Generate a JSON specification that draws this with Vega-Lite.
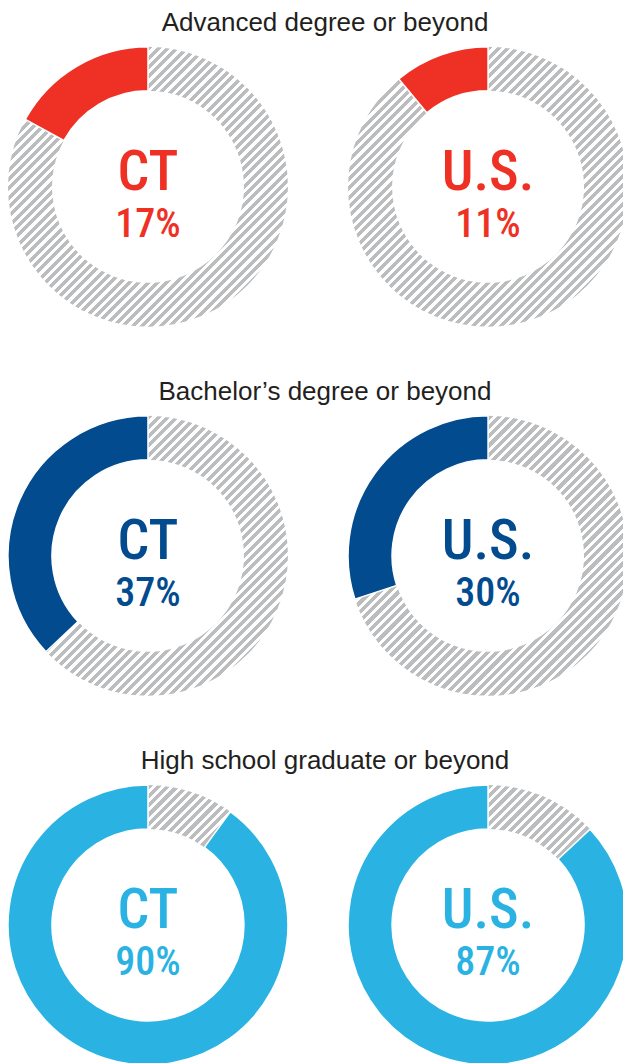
{
  "$schema": "https://vega.github.io/schema/vega-lite/v6.json",
  "width": 623,
  "height": 1063,
  "autosize": "none",
  "padding": 0,
  "background": "#ffffff",
  "config": {"view": {"stroke": null}},
  "data": {
    "values": [
      {"title": "Advanced degree or beyond", "region": "CT", "pct": 17, "label": "17%"},
      {"title": "Advanced degree or beyond", "region": "U.S.", "pct": 11, "label": "11%"},
      {"title": "Bachelor’s degree or beyond", "region": "CT", "pct": 37, "label": "37%"},
      {"title": "Bachelor’s degree or beyond", "region": "U.S.", "pct": 30, "label": "30%"},
      {"title": "High school graduate or beyond", "region": "CT", "pct": 90, "label": "90%"},
      {"title": "High school graduate or beyond", "region": "U.S.", "pct": 87, "label": "87%"}
    ]
  },
  "encoding": {
    "x": {"field": "region", "type": "nominal", "axis": null,
          "scale": {"type": "point", "domain": ["CT", "U.S."], "padding": 0.416, "align": 0.523}},
    "y": {"field": "title", "type": "nominal", "axis": null,
          "scale": {"type": "point", "domain": ["Advanced degree or beyond", "Bachelor’s degree or beyond", "High school graduate or beyond"], "padding": 0.44, "align": 0.575}}
  },
  "layer": [
    {
      "mark": {
        "type": "arc", "outerRadius": 140, "innerRadius": 96, "theta": 0, "theta2": 6.2832,
        "fill": {
          "gradient": "linear", "x1": 0, "y1": 0, "x2": 1, "y2": 1,
          "stops": [
            {"offset":0,"color":"#bcbdbf"},{"offset":0.00917,"color":"#bcbdbf"},{"offset":0.00917,"color":"#fff"},{"offset":0.01667,"color":"#fff"},
            {"offset":0.01667,"color":"#bcbdbf"},{"offset":0.02583,"color":"#bcbdbf"},{"offset":0.02583,"color":"#fff"},{"offset":0.03333,"color":"#fff"},
            {"offset":0.03333,"color":"#bcbdbf"},{"offset":0.0425,"color":"#bcbdbf"},{"offset":0.0425,"color":"#fff"},{"offset":0.05,"color":"#fff"},
            {"offset":0.05,"color":"#bcbdbf"},{"offset":0.05917,"color":"#bcbdbf"},{"offset":0.05917,"color":"#fff"},{"offset":0.06667,"color":"#fff"},
            {"offset":0.06667,"color":"#bcbdbf"},{"offset":0.07583,"color":"#bcbdbf"},{"offset":0.07583,"color":"#fff"},{"offset":0.08333,"color":"#fff"},
            {"offset":0.08333,"color":"#bcbdbf"},{"offset":0.0925,"color":"#bcbdbf"},{"offset":0.0925,"color":"#fff"},{"offset":0.1,"color":"#fff"},
            {"offset":0.1,"color":"#bcbdbf"},{"offset":0.10917,"color":"#bcbdbf"},{"offset":0.10917,"color":"#fff"},{"offset":0.11667,"color":"#fff"},
            {"offset":0.11667,"color":"#bcbdbf"},{"offset":0.12583,"color":"#bcbdbf"},{"offset":0.12583,"color":"#fff"},{"offset":0.13333,"color":"#fff"},
            {"offset":0.13333,"color":"#bcbdbf"},{"offset":0.1425,"color":"#bcbdbf"},{"offset":0.1425,"color":"#fff"},{"offset":0.15,"color":"#fff"},
            {"offset":0.15,"color":"#bcbdbf"},{"offset":0.15917,"color":"#bcbdbf"},{"offset":0.15917,"color":"#fff"},{"offset":0.16667,"color":"#fff"},
            {"offset":0.16667,"color":"#bcbdbf"},{"offset":0.17583,"color":"#bcbdbf"},{"offset":0.17583,"color":"#fff"},{"offset":0.18333,"color":"#fff"},
            {"offset":0.18333,"color":"#bcbdbf"},{"offset":0.1925,"color":"#bcbdbf"},{"offset":0.1925,"color":"#fff"},{"offset":0.2,"color":"#fff"},
            {"offset":0.2,"color":"#bcbdbf"},{"offset":0.20917,"color":"#bcbdbf"},{"offset":0.20917,"color":"#fff"},{"offset":0.21667,"color":"#fff"},
            {"offset":0.21667,"color":"#bcbdbf"},{"offset":0.22583,"color":"#bcbdbf"},{"offset":0.22583,"color":"#fff"},{"offset":0.23333,"color":"#fff"},
            {"offset":0.23333,"color":"#bcbdbf"},{"offset":0.2425,"color":"#bcbdbf"},{"offset":0.2425,"color":"#fff"},{"offset":0.25,"color":"#fff"},
            {"offset":0.25,"color":"#bcbdbf"},{"offset":0.25917,"color":"#bcbdbf"},{"offset":0.25917,"color":"#fff"},{"offset":0.26667,"color":"#fff"},
            {"offset":0.26667,"color":"#bcbdbf"},{"offset":0.27583,"color":"#bcbdbf"},{"offset":0.27583,"color":"#fff"},{"offset":0.28333,"color":"#fff"},
            {"offset":0.28333,"color":"#bcbdbf"},{"offset":0.2925,"color":"#bcbdbf"},{"offset":0.2925,"color":"#fff"},{"offset":0.3,"color":"#fff"},
            {"offset":0.3,"color":"#bcbdbf"},{"offset":0.30917,"color":"#bcbdbf"},{"offset":0.30917,"color":"#fff"},{"offset":0.31667,"color":"#fff"},
            {"offset":0.31667,"color":"#bcbdbf"},{"offset":0.32583,"color":"#bcbdbf"},{"offset":0.32583,"color":"#fff"},{"offset":0.33333,"color":"#fff"},
            {"offset":0.33333,"color":"#bcbdbf"},{"offset":0.3425,"color":"#bcbdbf"},{"offset":0.3425,"color":"#fff"},{"offset":0.35,"color":"#fff"},
            {"offset":0.35,"color":"#bcbdbf"},{"offset":0.35917,"color":"#bcbdbf"},{"offset":0.35917,"color":"#fff"},{"offset":0.36667,"color":"#fff"},
            {"offset":0.36667,"color":"#bcbdbf"},{"offset":0.37583,"color":"#bcbdbf"},{"offset":0.37583,"color":"#fff"},{"offset":0.38333,"color":"#fff"},
            {"offset":0.38333,"color":"#bcbdbf"},{"offset":0.3925,"color":"#bcbdbf"},{"offset":0.3925,"color":"#fff"},{"offset":0.4,"color":"#fff"},
            {"offset":0.4,"color":"#bcbdbf"},{"offset":0.40917,"color":"#bcbdbf"},{"offset":0.40917,"color":"#fff"},{"offset":0.41667,"color":"#fff"},
            {"offset":0.41667,"color":"#bcbdbf"},{"offset":0.42583,"color":"#bcbdbf"},{"offset":0.42583,"color":"#fff"},{"offset":0.43333,"color":"#fff"},
            {"offset":0.43333,"color":"#bcbdbf"},{"offset":0.4425,"color":"#bcbdbf"},{"offset":0.4425,"color":"#fff"},{"offset":0.45,"color":"#fff"},
            {"offset":0.45,"color":"#bcbdbf"},{"offset":0.45917,"color":"#bcbdbf"},{"offset":0.45917,"color":"#fff"},{"offset":0.46667,"color":"#fff"},
            {"offset":0.46667,"color":"#bcbdbf"},{"offset":0.47583,"color":"#bcbdbf"},{"offset":0.47583,"color":"#fff"},{"offset":0.48333,"color":"#fff"},
            {"offset":0.48333,"color":"#bcbdbf"},{"offset":0.4925,"color":"#bcbdbf"},{"offset":0.4925,"color":"#fff"},{"offset":0.5,"color":"#fff"},
            {"offset":0.5,"color":"#bcbdbf"},{"offset":0.50917,"color":"#bcbdbf"},{"offset":0.50917,"color":"#fff"},{"offset":0.51667,"color":"#fff"},
            {"offset":0.51667,"color":"#bcbdbf"},{"offset":0.52583,"color":"#bcbdbf"},{"offset":0.52583,"color":"#fff"},{"offset":0.53333,"color":"#fff"},
            {"offset":0.53333,"color":"#bcbdbf"},{"offset":0.5425,"color":"#bcbdbf"},{"offset":0.5425,"color":"#fff"},{"offset":0.55,"color":"#fff"},
            {"offset":0.55,"color":"#bcbdbf"},{"offset":0.55917,"color":"#bcbdbf"},{"offset":0.55917,"color":"#fff"},{"offset":0.56667,"color":"#fff"},
            {"offset":0.56667,"color":"#bcbdbf"},{"offset":0.57583,"color":"#bcbdbf"},{"offset":0.57583,"color":"#fff"},{"offset":0.58333,"color":"#fff"},
            {"offset":0.58333,"color":"#bcbdbf"},{"offset":0.5925,"color":"#bcbdbf"},{"offset":0.5925,"color":"#fff"},{"offset":0.6,"color":"#fff"},
            {"offset":0.6,"color":"#bcbdbf"},{"offset":0.60917,"color":"#bcbdbf"},{"offset":0.60917,"color":"#fff"},{"offset":0.61667,"color":"#fff"},
            {"offset":0.61667,"color":"#bcbdbf"},{"offset":0.62583,"color":"#bcbdbf"},{"offset":0.62583,"color":"#fff"},{"offset":0.63333,"color":"#fff"},
            {"offset":0.63333,"color":"#bcbdbf"},{"offset":0.6425,"color":"#bcbdbf"},{"offset":0.6425,"color":"#fff"},{"offset":0.65,"color":"#fff"},
            {"offset":0.65,"color":"#bcbdbf"},{"offset":0.65917,"color":"#bcbdbf"},{"offset":0.65917,"color":"#fff"},{"offset":0.66667,"color":"#fff"},
            {"offset":0.66667,"color":"#bcbdbf"},{"offset":0.67583,"color":"#bcbdbf"},{"offset":0.67583,"color":"#fff"},{"offset":0.68333,"color":"#fff"},
            {"offset":0.68333,"color":"#bcbdbf"},{"offset":0.6925,"color":"#bcbdbf"},{"offset":0.6925,"color":"#fff"},{"offset":0.7,"color":"#fff"},
            {"offset":0.7,"color":"#bcbdbf"},{"offset":0.70917,"color":"#bcbdbf"},{"offset":0.70917,"color":"#fff"},{"offset":0.71667,"color":"#fff"},
            {"offset":0.71667,"color":"#bcbdbf"},{"offset":0.72583,"color":"#bcbdbf"},{"offset":0.72583,"color":"#fff"},{"offset":0.73333,"color":"#fff"},
            {"offset":0.73333,"color":"#bcbdbf"},{"offset":0.7425,"color":"#bcbdbf"},{"offset":0.7425,"color":"#fff"},{"offset":0.75,"color":"#fff"},
            {"offset":0.75,"color":"#bcbdbf"},{"offset":0.75917,"color":"#bcbdbf"},{"offset":0.75917,"color":"#fff"},{"offset":0.76667,"color":"#fff"},
            {"offset":0.76667,"color":"#bcbdbf"},{"offset":0.77583,"color":"#bcbdbf"},{"offset":0.77583,"color":"#fff"},{"offset":0.78333,"color":"#fff"},
            {"offset":0.78333,"color":"#bcbdbf"},{"offset":0.7925,"color":"#bcbdbf"},{"offset":0.7925,"color":"#fff"},{"offset":0.8,"color":"#fff"},
            {"offset":0.8,"color":"#bcbdbf"},{"offset":0.80917,"color":"#bcbdbf"},{"offset":0.80917,"color":"#fff"},{"offset":0.81667,"color":"#fff"},
            {"offset":0.81667,"color":"#bcbdbf"},{"offset":0.82583,"color":"#bcbdbf"},{"offset":0.82583,"color":"#fff"},{"offset":0.83333,"color":"#fff"},
            {"offset":0.83333,"color":"#bcbdbf"},{"offset":0.8425,"color":"#bcbdbf"},{"offset":0.8425,"color":"#fff"},{"offset":0.85,"color":"#fff"},
            {"offset":0.85,"color":"#bcbdbf"},{"offset":0.85917,"color":"#bcbdbf"},{"offset":0.85917,"color":"#fff"},{"offset":0.86667,"color":"#fff"},
            {"offset":0.86667,"color":"#bcbdbf"},{"offset":0.87583,"color":"#bcbdbf"},{"offset":0.87583,"color":"#fff"},{"offset":0.88333,"color":"#fff"},
            {"offset":0.88333,"color":"#bcbdbf"},{"offset":0.8925,"color":"#bcbdbf"},{"offset":0.8925,"color":"#fff"},{"offset":0.9,"color":"#fff"},
            {"offset":0.9,"color":"#bcbdbf"},{"offset":0.90917,"color":"#bcbdbf"},{"offset":0.90917,"color":"#fff"},{"offset":0.91667,"color":"#fff"},
            {"offset":0.91667,"color":"#bcbdbf"},{"offset":0.92583,"color":"#bcbdbf"},{"offset":0.92583,"color":"#fff"},{"offset":0.93333,"color":"#fff"},
            {"offset":0.93333,"color":"#bcbdbf"},{"offset":0.9425,"color":"#bcbdbf"},{"offset":0.9425,"color":"#fff"},{"offset":0.95,"color":"#fff"},
            {"offset":0.95,"color":"#bcbdbf"},{"offset":0.95917,"color":"#bcbdbf"},{"offset":0.95917,"color":"#fff"},{"offset":0.96667,"color":"#fff"},
            {"offset":0.96667,"color":"#bcbdbf"},{"offset":0.97583,"color":"#bcbdbf"},{"offset":0.97583,"color":"#fff"},{"offset":0.98333,"color":"#fff"},
            {"offset":0.98333,"color":"#bcbdbf"},{"offset":0.9925,"color":"#bcbdbf"},{"offset":0.9925,"color":"#fff"},{"offset":1,"color":"#fff"}
          ]
        }
      }
    },
    {
      "mark": {"type": "arc", "outerRadius": 140, "innerRadius": 96, "stroke": "#ffffff", "strokeWidth": 1.5},
      "encoding": {
        "theta": {"field": "pct", "type": "quantitative", "stack": null,
                  "scale": {"domain": [0, 100], "range": [6.283185, 0]}},
        "theta2": {"datum": 0},
        "color": {"field": "title", "type": "nominal", "legend": null,
                  "scale": {"domain": ["Advanced degree or beyond", "Bachelor’s degree or beyond", "High school graduate or beyond"],
                            "range": ["#ee3124", "#034b8f", "#2ab3e2"]}}
      }
    },
    {
      "mark": {"type": "text", "font": "Roboto Condensed, Liberation Sans Narrow, Roboto", "fontWeight": 500, "fontSize": 56, "baseline": "alphabetic", "align": "center", "dy": 3},
      "encoding": {
        "text": {"field": "region"},
        "color": {"field": "title", "type": "nominal", "legend": null}
      }
    },
    {
      "mark": {"type": "text", "font": "Roboto Condensed, Liberation Sans Narrow, Roboto", "fontWeight": 500, "fontSize": 40, "baseline": "alphabetic", "align": "center", "dy": 50},
      "encoding": {
        "text": {"field": "label"},
        "color": {"field": "title", "type": "nominal", "legend": null}
      }
    },
    {
      "transform": [{"filter": "datum.region === 'CT'"}],
      "mark": {"type": "text", "font": "Liberation Sans, Arial, sans-serif", "fontSize": 26, "color": "#231f20", "baseline": "alphabetic", "align": "center", "dy": -156},
      "encoding": {
        "x": {"value": 325},
        "text": {"field": "title"}
      }
    }
  ]
}
